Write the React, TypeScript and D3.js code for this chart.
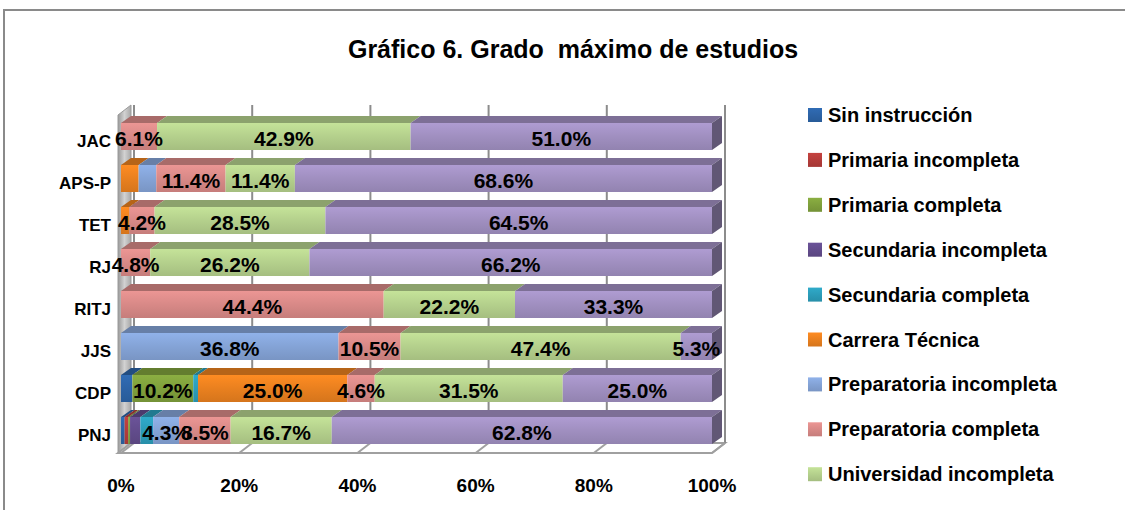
import React from "react";
import * as d3 from "d3";

const categories = ["JAC", "APS-P", "TET", "RJ", "RITJ", "JJS", "CDP", "PNJ"];

const seriesNames = [
  "Sin instrucción",
  "Primaria incompleta",
  "Primaria completa",
  "Secundaria incompleta",
  "Secundaria completa",
  "Carrera Técnica",
  "Preparatoria incompleta",
  "Preparatoria completa",
  "Universidad incompleta",
  "Universidad completa",
];

const sinInstruccion = [0, 0, 0, 0, 0, 0, 1.9, 0.6];
const primariaIncompleta = [0, 0, 0, 0, 0, 0, 0, 0.6];
const primariaCompleta = [0, 0, 0, 0, 0, 0, 10.2, 0.3];
const secundariaIncompleta = [0, 0, 0, 0, 0, 0, 0, 1.7];
const secundariaCompleta = [0, 0, 0, 0, 0, 0, 0.8, 2.1];
const carreraTecnica = [0, 2.9, 1.4, 0, 0, 0, 25.0, 0];
const preparatoriaIncompleta = [0, 2.9, 0, 0, 0, 36.8, 0, 4.3];
const preparatoriaCompleta = [6.1, 11.4, 4.2, 4.8, 44.4, 10.5, 4.6, 8.5];
const universidadIncompleta = [42.9, 11.4, 28.5, 26.2, 22.2, 47.4, 31.5, 16.7];
const universidadCompleta = [51.0, 68.6, 64.5, 66.2, 33.3, 5.3, 25.0, 62.8];

const seriesValues = [
  sinInstruccion,
  primariaIncompleta,
  primariaCompleta,
  secundariaIncompleta,
  secundariaCompleta,
  carreraTecnica,
  preparatoriaIncompleta,
  preparatoriaCompleta,
  universidadIncompleta,
  universidadCompleta,
];

const seriesColors = [
  "#2C63A6",
  "#B43C3A",
  "#7FA03C",
  "#624C8C",
  "#2B9CB9",
  "#E9801F",
  "#84A3D6",
  "#D88987",
  "#B4D08C",
  "#A08FC0",
];

const xTicks = [0, 0.2, 0.4, 0.6, 0.8, 1];
const xTickLabels = ["0%", "20%", "40%", "60%", "80%", "100%"];

const title = "Gráfico 6. Grado  máximo de estudios";
const FONT = "'Liberation Sans', Arial, sans-serif";

export default function App() {
  const W = 1125;
  const H = 510;
  const x = d3.scaleLinear().domain([0, 1]).range([121, 712]);
  const y = d3.scalePoint<string>().domain(categories).range([123, 417]);
  const barH = 27;
  const bdx = 10;
  const bdy = -7;
  const wdx = 13;
  const wdy = -10;
  const floorY = 453;
  const wallTopFront = 115;

  const rows = categories.map((c, i) => {
    const o: any = { category: c };
    seriesNames.forEach((s, k) => (o[s] = seriesValues[k][i]));
    return o;
  });
  const layers = d3.stack<any>().keys(seriesNames).offset(d3.stackOffsetExpand)(rows);

  const pts = (p: number[][]) => p.map((q) => q.join(",")).join(" ");
  const col = (k: number) => d3.color(seriesColors[k])!;

  const x0 = x(0);
  const x1 = x(1);

  const bars: React.ReactNode[] = [];
  const labels: React.ReactNode[] = [];
  categories.forEach((c, i) => {
    const yt = y(c)!;
    let lastK = -1;
    let lastX1 = 0;
    layers.forEach((layer, k) => {
      const [a, b] = layer[i];
      const v = seriesValues[k][i];
      if (!(b - a > 0)) return;
      const xa = x(a);
      const xb = x(b);
      lastK = k;
      lastX1 = xb;
      bars.push(
        <polygon
          key={`t-${i}-${k}`}
          points={pts([
            [xa, yt],
            [xa + bdx, yt + bdy],
            [xb + bdx, yt + bdy],
            [xb, yt],
          ])}
          fill={col(k).darker(0.7).toString()}
        />
      );
      bars.push(
        <rect
          key={`f-${i}-${k}`}
          x={xa}
          y={yt}
          width={xb - xa}
          height={barH}
          fill={`url(#g${k})`}
        />
      );
      if (v >= 4) {
        labels.push(
          <text
            key={`l-${i}-${k}`}
            x={(xa + xb) / 2}
            y={yt + barH / 2 + 2}
            textAnchor="middle"
            dominantBaseline="central"
            fontFamily={FONT}
            fontWeight="bold"
            fontSize={21}
            fill="#000"
          >
            {v.toFixed(1) + "%"}
          </text>
        );
      }
    });
    if (lastK >= 0) {
      bars.push(
        <polygon
          key={`s-${i}`}
          points={pts([
            [lastX1, yt],
            [lastX1 + bdx, yt + bdy],
            [lastX1 + bdx, yt + bdy + barH],
            [lastX1, yt + barH],
          ])}
          fill={col(lastK).darker(1.4).toString()}
        />
      );
    }
  });

  return (
    <svg
      width={W}
      height={H}
      style={{ position: "absolute", left: 0, top: 0, display: "block", background: "#fff" }}
    >
      <defs>
        {seriesColors.map((c, k) => (
          <linearGradient key={k} id={`g${k}`} x1="0" y1="0" x2="0" y2="1">
            <stop offset="0" stopColor={d3.color(c)!.brighter(0.25).toString()} />
            <stop offset="0.5" stopColor={c} />
            <stop offset="1" stopColor={d3.color(c)!.darker(0.25).toString()} />
          </linearGradient>
        ))}
        <linearGradient id="wall" x1="0" y1="0" x2="1" y2="0">
          <stop offset="0" stopColor="#9a9a9a" />
          <stop offset="0.5" stopColor="#d2d2d2" />
          <stop offset="1" stopColor="#a8a8a8" />
        </linearGradient>
      </defs>

      <rect x={4} y={10} width={1200} height={600} fill="none" stroke="#8a8a8a" strokeWidth={2} />

      <text
        x={573}
        y={58}
        textAnchor="middle"
        fontFamily={FONT}
        fontWeight="bold"
        fontSize={25}
        fill="#000"
        style={{ whiteSpace: "pre" }}
      >
        {title}
      </text>

      {/* left wall */}
      <polygon
        points={pts([
          [x0 - 3, wallTopFront],
          [x0 - 3 + wdx, wallTopFront + wdy],
          [x0 - 3 + wdx, floorY + wdy],
          [x0 - 3, floorY],
        ])}
        fill="url(#wall)"
        stroke="#9a9a9a"
        strokeWidth={1}
      />
      {/* floor */}
      <polygon
        points={pts([
          [x0 - 3, floorY],
          [x0 - 3 + wdx, floorY + wdy],
          [x1 + wdx, floorY + wdy],
          [x1, floorY],
        ])}
        fill="#fff"
        stroke="#a0a0a0"
        strokeWidth={2}
      />
      {/* gridlines on back wall + floor ticks */}
      {xTicks.map((t, i) => (
        <g key={i}>
          <line
            x1={x(t) + wdx}
            x2={x(t) + wdx}
            y1={wallTopFront + wdy}
            y2={floorY + wdy}
            stroke="#8c8c8c"
            strokeWidth={2}
          />
          <line
            x1={x(t) + wdx}
            x2={x(t)}
            y1={floorY + wdy}
            y2={floorY}
            stroke="#a0a0a0"
            strokeWidth={2}
          />
        </g>
      ))}

      {bars}
      {labels}

      {/* category labels */}
      {categories.map((c) => (
        <text
          key={c}
          x={111}
          y={y(c)! + 18}
          textAnchor="end"
          dominantBaseline="central"
          fontFamily={FONT}
          fontWeight="bold"
          fontSize={17}
          fill="#000"
        >
          {c}
        </text>
      ))}

      {/* x tick labels */}
      {xTicks.map((t, i) => (
        <text
          key={i}
          x={x(t)}
          y={485}
          textAnchor="middle"
          dominantBaseline="central"
          fontFamily={FONT}
          fontWeight="bold"
          fontSize={19}
          fill="#000"
        >
          {xTickLabels[i]}
        </text>
      ))}

      {/* legend (the last entry falls below the visible frame, as in the original) */}
      {seriesNames.map((s, k) => {
        const cy = 115 + 44.9 * k;
        if (cy > H) return null;
        return (
          <g key={s}>
            <rect x={808} y={cy - 7} width={14} height={14} fill={`url(#g${k})`} />
            <text
              x={828}
              y={cy}
              dominantBaseline="central"
              fontFamily={FONT}
              fontWeight="bold"
              fontSize={20}
              fill="#000"
            >
              {s}
            </text>
          </g>
        );
      })}
    </svg>
  );
}
